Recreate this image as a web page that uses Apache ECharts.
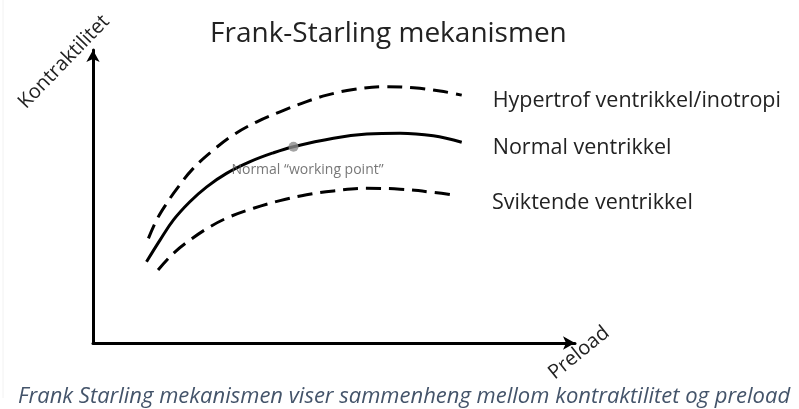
<!DOCTYPE html>
<html><head><meta charset="utf-8">
<script src="https://cdn.jsdelivr.net/npm/echarts@6/dist/echarts.min.js"></script>
<style>html,body{margin:0;padding:0;background:#fff}#c{width:799px;height:409px}</style>
</head><body><div id="c"></div>
<script>
// Conceptual chart: arbitrary 0-100 scales
const titleText = 'Frank-Starling mekanismen';
const captionText = 'Frank Starling mekanismen viser sammenheng mellom kontraktilitet og preload';
const yName = 'Kontraktilitet';
const xName = 'Preload';
const seriesNames = ['Hypertrof ventrikkel/inotropi', 'Normal ventrikkel', 'Sviktende ventrikkel'];
const hypertrof = [[11.5,35.7],[13.2,42.0],[15.3,47.7],[17.7,53.3],[20.8,59.6],[25.0,65.9],[29.1,71.0],[34.0,75.5],[38.8,78.9],[44.3,82.4],[48.5,84.6],[54.0,86.5],[60.9,87.5],[66.5,87.1],[72.0,86.0],[76.5,84.6]];
const normal = [[11.1,27.7],[13.9,35.1],[16.7,42.0],[20.1,48.2],[23.6,53.3],[27.7,57.9],[32.6,61.9],[37.4,64.9],[41.6,67.0],[49.9,69.9],[56.8,71.3],[63.7,71.6],[70.6,70.7],[76.5,68.5]];
const sviktende = [[13.5,24.9],[16.7,30.6],[20.1,35.1],[24.3,39.7],[28.4,43.1],[33.3,46.0],[38.8,48.6],[44.3,50.6],[49.9,51.9],[56.8,52.8],[63.7,52.5],[70.6,51.4],[75.5,50.3]];
const workingPoint = [[41.6,67.0]];
const workingLabel = 'Normal \u201cworking point\u201d';

const chart = echarts.init(document.getElementById('c'), null, {renderer:'canvas'});
const labelFont = {fontFamily:'"Open Sans"', fontSize:21.5, color:'#222'};
function lineSeries(name, data, dashed, off){
  return {
    type:'line', name, data, smooth:0.4, symbol:'none',
    lineStyle:{color:'#000', width:3, type: dashed ? [15,8] : 'solid', cap:'butt'},
    endLabel:{show:true, formatter:name, distance:31, offset:off, ...labelFont},
    z:3
  };
}
chart.setOption({
  animation:false,
  title:{text:titleText, left:205, top:15, textStyle:{fontFamily:'"Open Sans"', fontSize:28, fontWeight:'normal', color:'#222'}},
  grid:{left:93, top:50, right:224, bottom:66},
  xAxis:{type:'value', min:0, max:100,
    axisLine:{show:true, symbol:['none','arrow'], symbolSize:[10,12], lineStyle:{color:'#000', width:3}},
    axisTick:{show:false}, axisLabel:{show:false}, splitLine:{show:false}},
  yAxis:{type:'value', min:0, max:100,
    axisLine:{show:true, symbol:['none','arrow'], symbolSize:[10,12], lineStyle:{color:'#000', width:3}},
    axisTick:{show:false}, axisLabel:{show:false}, splitLine:{show:false}},
  series:[
    lineSeries(seriesNames[0], hypertrof, true, [0,6]),
    lineSeries(seriesNames[1], normal, false, [0,6]),
    lineSeries(seriesNames[2], sviktende, true, [4,7]),
    {type:'scatter', data:workingPoint, symbolSize:10, itemStyle:{color:'#8c8c8c'}, z:5,
     label:{show:true, formatter:workingLabel, position:'bottom', distance:3, offset:[14,8],
       fontFamily:'"Open Sans"', fontSize:14, color:'#555'}}
  ],
  graphic:[
    {type:'line', shape:{x1:3, y1:0, x2:3, y2:398}, style:{stroke:'#f2f2f2', lineWidth:1}, silent:true},
    {type:'text', x:64, y:62, rotation:46*Math.PI/180,
      style:{text:yName, x:0, y:0, align:'center', verticalAlign:'middle', font:'20px "Open Sans"', fill:'#222'}},
    {type:'text', x:579, y:353, rotation:39*Math.PI/180,
      style:{text:xName, x:0, y:0, align:'center', verticalAlign:'middle', font:'20px "Open Sans"', fill:'#222'}},
    {type:'text', left:18, top:386,
      style:{text:captionText, font:'italic 22px "Open Sans"', fill:'#44546A'}}
  ]
});
</script></body></html>
